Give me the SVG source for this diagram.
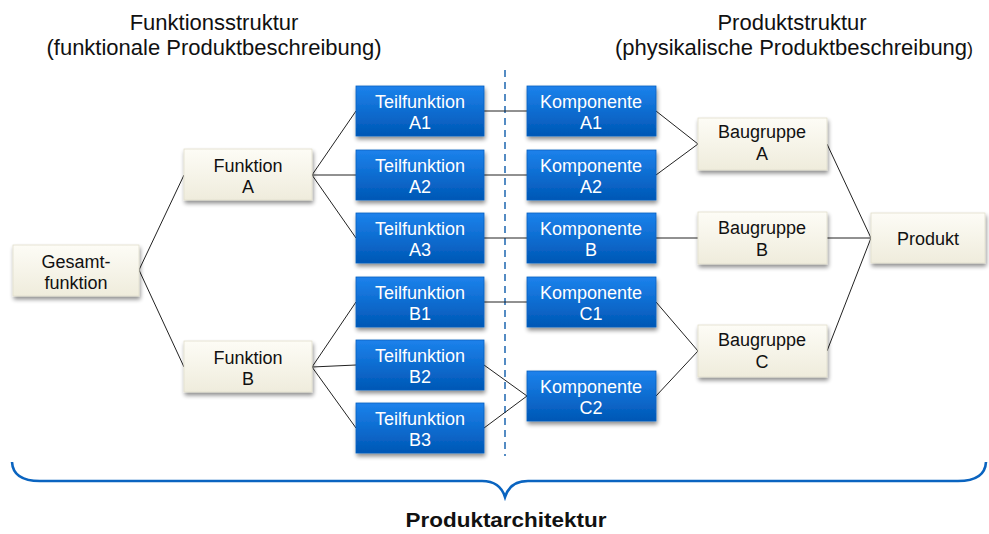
<svg xmlns="http://www.w3.org/2000/svg" width="989" height="534" viewBox="0 0 989 534">
  <defs>
    <linearGradient id="gBeige" x1="0" y1="0" x2="0" y2="1">
      <stop offset="0" stop-color="#fdfcf6"/>
      <stop offset="1" stop-color="#efecdc"/>
    </linearGradient>
    <linearGradient id="gBlue" x1="0" y1="0" x2="0" y2="1">
      <stop offset="0" stop-color="#1c82ec"/>
      <stop offset="1" stop-color="#0057b5"/>
    </linearGradient>
    <filter id="shadow" x="-10%" y="-10%" width="120%" height="140%">
      <feGaussianBlur in="SourceAlpha" stdDeviation="2"/>
      <feOffset dx="1" dy="3" result="b"/>
      <feComponentTransfer><feFuncA type="linear" slope="0.45"/></feComponentTransfer>
      <feMerge><feMergeNode/><feMergeNode in="SourceGraphic"/></feMerge>
    </filter>
  </defs>
  <style>
    .beige { fill: url(#gBeige); stroke: #e2dfcc; stroke-width: 0.8; filter: url(#shadow); }
    .blue { fill: url(#gBlue); stroke: #0a5fc0; stroke-width: 0.8; filter: url(#shadow); }
    .t { font-family: "Liberation Sans", Arial, sans-serif; font-size: 18px; text-anchor: middle; }
    .dark { fill: #111; }
    .light { fill: #fff; }
    .head { font-family: "Liberation Sans", Arial, sans-serif; font-size: 22px; text-anchor: middle; fill: #111; }
    .conn line { stroke: #222; stroke-width: 1; fill: none; }
  </style>
  <rect width="989" height="534" fill="#fff"/>

  <!-- column headings -->
  <text class="head" x="214" y="30">Funktionsstruktur</text>
  <text class="head" x="214" y="55">(funktionale Produktbeschreibung)</text>
  <text class="head" x="792" y="30">Produktstruktur</text>
  <text class="head" x="794" y="55">(physikalische Produktbeschreibung<tspan font-size="18">)</tspan></text>

  <!-- divider between function and product structure -->
  <line x1="505" y1="70" x2="505" y2="456" stroke="#2a6fb5" stroke-width="1.6" stroke-dasharray="7,5"/>

  <!-- connectors -->
  <g class="conn" id="connectors">
    <line x1="139" y1="270" x2="184" y2="175"/>
    <line x1="139" y1="270" x2="184" y2="367"/>
    <line x1="312" y1="175" x2="356" y2="111"/>
    <line x1="312" y1="175" x2="356" y2="175"/>
    <line x1="312" y1="175" x2="356" y2="238"/>
    <line x1="312" y1="367" x2="356" y2="302"/>
    <line x1="312" y1="367" x2="356" y2="365"/>
    <line x1="312" y1="367" x2="356" y2="428"/>
    <line x1="484" y1="111" x2="527" y2="111"/>
    <line x1="484" y1="175" x2="527" y2="175"/>
    <line x1="484" y1="238" x2="527" y2="238"/>
    <line x1="484" y1="302" x2="527" y2="302"/>
    <line x1="484" y1="365" x2="527" y2="396"/>
    <line x1="484" y1="428" x2="527" y2="396"/>
    <line x1="656" y1="111" x2="698" y2="144"/>
    <line x1="656" y1="175" x2="698" y2="144"/>
    <line x1="656" y1="238" x2="698" y2="238"/>
    <line x1="656" y1="302" x2="698" y2="351"/>
    <line x1="656" y1="396" x2="698" y2="351"/>
    <line x1="827" y1="144" x2="871" y2="238"/>
    <line x1="827" y1="238" x2="871" y2="238"/>
    <line x1="827" y1="351" x2="871" y2="238"/>
  </g>

  <!-- function structure -->
  <g id="gesamtfunktion">
    <rect class="beige" x="13" y="245" width="126" height="51"/>
    <text class="t dark" x="76" y="268">Gesamt-</text>
    <text class="t dark" x="76" y="289">funktion</text>
  </g>
  <g id="funktion-a">
    <rect class="beige" x="184" y="149" width="128" height="51"/>
    <text class="t dark" x="248" y="172">Funktion</text>
    <text class="t dark" x="248" y="193">A</text>
  </g>
  <g id="funktion-b">
    <rect class="beige" x="184" y="341" width="128" height="51"/>
    <text class="t dark" x="248" y="364">Funktion</text>
    <text class="t dark" x="248" y="385">B</text>
  </g>

  <g id="teilfunktion-a1">
    <rect class="blue" x="356" y="86" width="128" height="50"/>
    <text class="t light" x="420" y="108">Teilfunktion</text>
    <text class="t light" x="420" y="129">A1</text>
  </g>
  <g id="teilfunktion-a2">
    <rect class="blue" x="356" y="150" width="128" height="50"/>
    <text class="t light" x="420" y="172">Teilfunktion</text>
    <text class="t light" x="420" y="193">A2</text>
  </g>
  <g id="teilfunktion-a3">
    <rect class="blue" x="356" y="213" width="128" height="50"/>
    <text class="t light" x="420" y="235">Teilfunktion</text>
    <text class="t light" x="420" y="256">A3</text>
  </g>
  <g id="teilfunktion-b1">
    <rect class="blue" x="356" y="277" width="128" height="50"/>
    <text class="t light" x="420" y="299">Teilfunktion</text>
    <text class="t light" x="420" y="320">B1</text>
  </g>
  <g id="teilfunktion-b2">
    <rect class="blue" x="356" y="340" width="128" height="50"/>
    <text class="t light" x="420" y="362">Teilfunktion</text>
    <text class="t light" x="420" y="383">B2</text>
  </g>
  <g id="teilfunktion-b3">
    <rect class="blue" x="356" y="403" width="128" height="50"/>
    <text class="t light" x="420" y="425">Teilfunktion</text>
    <text class="t light" x="420" y="446">B3</text>
  </g>

  <!-- product structure -->
  <g id="komponente-a1">
    <rect class="blue" x="527" y="86" width="129" height="50"/>
    <text class="t light" x="591" y="108">Komponente</text>
    <text class="t light" x="591" y="129">A1</text>
  </g>
  <g id="komponente-a2">
    <rect class="blue" x="527" y="150" width="129" height="50"/>
    <text class="t light" x="591" y="172">Komponente</text>
    <text class="t light" x="591" y="193">A2</text>
  </g>
  <g id="komponente-b">
    <rect class="blue" x="527" y="213" width="129" height="50"/>
    <text class="t light" x="591" y="235">Komponente</text>
    <text class="t light" x="591" y="256">B</text>
  </g>
  <g id="komponente-c1">
    <rect class="blue" x="527" y="277" width="129" height="50"/>
    <text class="t light" x="591" y="299">Komponente</text>
    <text class="t light" x="591" y="320">C1</text>
  </g>
  <g id="komponente-c2">
    <rect class="blue" x="527" y="371" width="129" height="50"/>
    <text class="t light" x="591" y="393">Komponente</text>
    <text class="t light" x="591" y="414">C2</text>
  </g>

  <g id="baugruppe-a">
    <rect class="beige" x="698" y="118" width="129" height="52"/>
    <text class="t dark" x="762" y="138">Baugruppe</text>
    <text class="t dark" x="762" y="160">A</text>
  </g>
  <g id="baugruppe-b">
    <rect class="beige" x="698" y="212" width="129" height="52"/>
    <text class="t dark" x="762" y="234">Baugruppe</text>
    <text class="t dark" x="762" y="256">B</text>
  </g>
  <g id="baugruppe-c">
    <rect class="beige" x="698" y="325" width="129" height="52"/>
    <text class="t dark" x="762" y="346">Baugruppe</text>
    <text class="t dark" x="762" y="368">C</text>
  </g>
  <g id="produkt">
    <rect class="beige" x="871" y="213" width="114" height="50"/>
    <text class="t dark" x="928" y="245">Produkt</text>
  </g>

  <!-- curly brace spanning both structures -->
  <path d="M 12,462 Q 13,481 40,481 L 482,481 Q 500,481 505,497 Q 510,481 528,481 L 958,481 Q 985,481 986,462" fill="none" stroke="#0a64c0" stroke-width="2.6"/>
  <text x="506" y="527" font-family="'Liberation Sans', Arial, sans-serif" font-size="20" font-weight="bold" text-anchor="middle" fill="#111" textLength="201" lengthAdjust="spacingAndGlyphs">Produktarchitektur</text>
</svg>
